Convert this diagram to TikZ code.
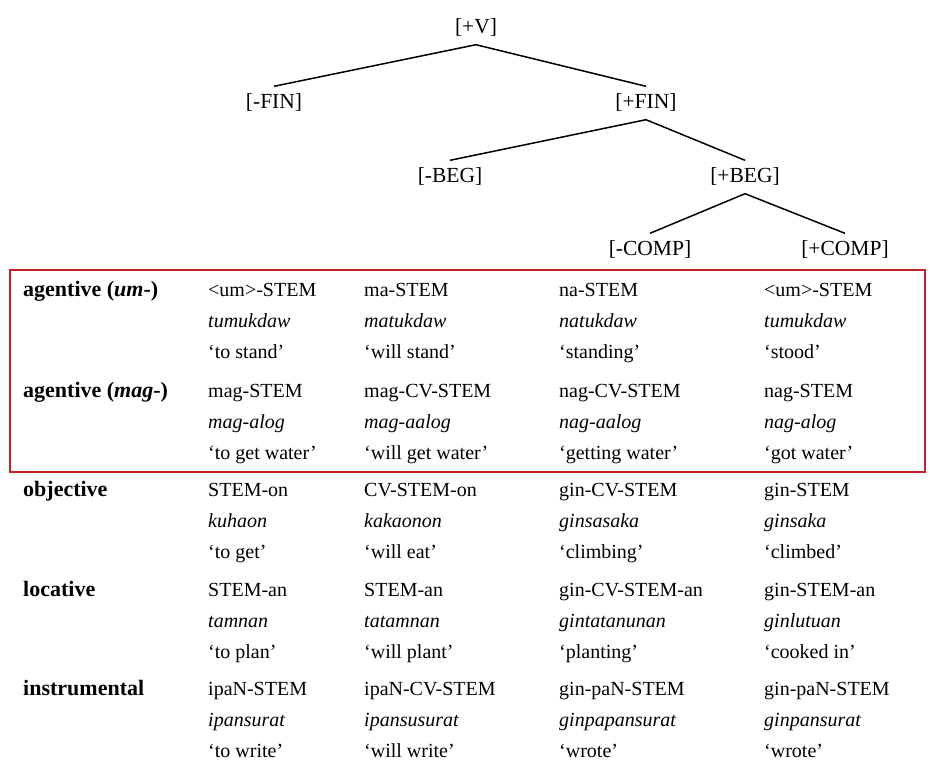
\documentclass[tikz,border=0pt]{standalone}
\usepackage{fontspec}
\setmainfont{Liberation Serif}
\definecolor{boxred}{RGB}{196,32,38}
\newcommand{\forms}[3]{\strut #1\\\textit{#2}\\#3}

\begin{document}
\begin{tikzpicture}[x=1pt,y=-1pt,
  feat/.style={font=\fontsize{21.5}{24}\selectfont, text height=15pt, text depth=4pt, inner xsep=2pt, inner ysep=7pt},
  branch/.style={line width=1.5pt},
  cell/.style={anchor=north west, inner sep=0pt, align=left, font=\fontsize{20}{31}\selectfont},
  lab/.style={cell, font=\fontsize{22}{31}\selectfont\bfseries}]
\useasboundingbox (0,0) rectangle (930,761);
%\draw[step=50,gray,very thin] (0,0) grid (930,761);
% feature tree
\node[feat] (v) at (476,28) {[+V]};
\node[feat] (finm) at (274,103) {[-FIN]};
\node[feat] (finp) at (646,103) {[+FIN]};
\node[feat] (begm) at (450,177) {[-BEG]};
\node[feat] (begp) at (745,177) {[+BEG]};
\node[feat] (compm) at (650,250) {[-COMP]};
\node[feat] (compp) at (845,250) {[+COMP]};
\draw[branch] (finm.north) -- (v.south) -- (finp.north);
\draw[branch] (begm.north) -- (finp.south) -- (begp.north);
\draw[branch] (compm.north) -- (begp.south) -- (compp.north);
% agentive rows
\draw[boxred, line width=1.4pt] (10,270) rectangle (925,472);
\node[lab] (agum) at (23,275) {\strut agentive (\textit{um}-)};
\node[cell] (agum1) at (208,275) {\forms{<um>-STEM}{tumukdaw}{`to stand'}};
\node[cell] (agum2) at (364,275) {\forms{ma-STEM}{matukdaw}{`will stand'}};
\node[cell] (agum3) at (559,275) {\forms{na-STEM}{natukdaw}{`standing'}};
\node[cell] (agum4) at (764,275) {\forms{<um>-STEM}{tumukdaw}{`stood'}};
\node[lab] (agmag) at (23,376) {\strut agentive (\textit{mag}-)};
\node[cell] (agmag1) at (208,376) {\forms{mag-STEM}{mag-alog}{`to get water'}};
\node[cell] (agmag2) at (364,376) {\forms{mag-CV-STEM}{mag-aalog}{`will get water'}};
\node[cell] (agmag3) at (559,376) {\forms{nag-CV-STEM}{nag-aalog}{`getting water'}};
\node[cell] (agmag4) at (764,376) {\forms{nag-STEM}{nag-alog}{`got water'}};
% other voices
\node[lab] (obj) at (23,475) {\strut objective};
\node[cell] (obj1) at (208,475) {\forms{STEM-on}{kuhaon}{`to get'}};
\node[cell] (obj2) at (364,475) {\forms{CV-STEM-on}{kakaonon}{`will eat'}};
\node[cell] (obj3) at (559,475) {\forms{gin-CV-STEM}{ginsasaka}{`climbing'}};
\node[cell] (obj4) at (764,475) {\forms{gin-STEM}{ginsaka}{`climbed'}};
\node[lab] (loc) at (23,575) {\strut locative};
\node[cell] (loc1) at (208,575) {\forms{STEM-an}{tamnan}{`to plan'}};
\node[cell] (loc2) at (364,575) {\forms{STEM-an}{tatamnan}{`will plant'}};
\node[cell] (loc3) at (559,575) {\forms{gin-CV-STEM-an}{gintatanunan}{`planting'}};
\node[cell] (loc4) at (764,575) {\forms{gin-STEM-an}{ginlutuan}{`cooked in'}};
\node[lab] (ins) at (23,674) {\strut instrumental};
\node[cell] (ins1) at (208,674) {\forms{ipaN-STEM}{ipansurat}{`to write'}};
\node[cell] (ins2) at (364,674) {\forms{ipaN-CV-STEM}{ipansusurat}{`will write'}};
\node[cell] (ins3) at (559,674) {\forms{gin-paN-STEM}{ginpapansurat}{`wrote'}};
\node[cell] (ins4) at (764,674) {\forms{gin-paN-STEM}{ginpansurat}{`wrote'}};
\end{tikzpicture}
\end{document}
